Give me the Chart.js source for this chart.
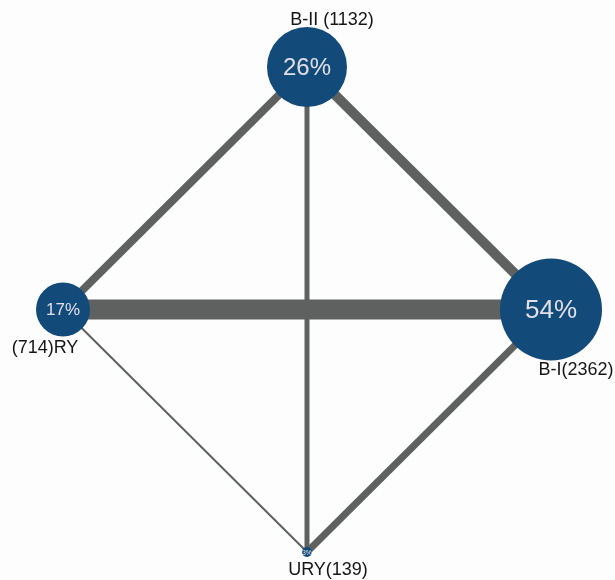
<!DOCTYPE html>
<html>
<head>
<meta charset="utf-8">
<script src="https://cdn.jsdelivr.net/npm/chart.js@4.4.3/dist/chart.umd.min.js"></script>
<style>
  html, body { margin: 0; padding: 0; background: #fdfdfe; }
  #wrap { width: 615px; height: 580px; position: relative; }
</style>
</head>
<body>
<div id="wrap"><canvas id="net"></canvas></div>
<script>
// network data
const nodeNames = ['RY', 'B-I', 'B-II', 'URY'];
const nodeCounts = [714, 2362, 1132, 139];
const nodePercents = [17, 54, 26, 3];
const nodeX = [-1, 1, 0, 0];
const nodeY = [0, 0, 1, -1];
const edgeFrom = [0, 2, 0, 2, 1, 0];
const edgeTo = [1, 1, 2, 3, 3, 3];
const edgeWeights = [10, 5, 4, 2.5, 3.5, 1];

// styling
const nodeRadius = [27, 51, 40, 5];
const nodeColor = '#124b79';
const edgeColor = '#5f6161';
const labelFont = '"Liberation Sans", Arial, sans-serif';

const edgeSets = edgeFrom.map((f, i) => ({
    type: 'scatter',
    showLine: true,
    data: [{ x: nodeX[f], y: nodeY[f] }, { x: nodeX[edgeTo[i]], y: nodeY[edgeTo[i]] }],
    borderColor: edgeColor,
    borderWidth: edgeWeights[i] * 2,
    pointRadius: 0,
    order: 2
}));

const nodeSet = {
    type: 'bubble',
    data: nodeNames.map((n, i) => ({ x: nodeX[i], y: nodeY[i], r: nodeRadius[i] })),
    backgroundColor: nodeColor,
    borderColor: nodeColor,
    borderWidth: 0,
    order: 1
};

// text placement per node
const labelPlace = [
    { dx: -18, dy: 39, text: i => '(' + nodeCounts[i] + ')' + nodeNames[i] },
    { dx: 25, dy: 61, text: i => nodeNames[i] + '(' + nodeCounts[i] + ')' },
    { dx: 25, dy: -47, text: i => nodeNames[i] + ' (' + nodeCounts[i] + ')' },
    { dx: 21, dy: 18, text: i => nodeNames[i] + '(' + nodeCounts[i] + ')' }
];
const pctSize = [17, 26, 24, 7];

const nodeText = {
    id: 'nodeText',
    afterDatasetsDraw(chart) {
        const ctx = chart.ctx;
        const xs = chart.scales.x, ys = chart.scales.y;
        ctx.save();
        nodeNames.forEach((n, i) => {
            const px = xs.getPixelForValue(nodeX[i]);
            const py = ys.getPixelForValue(nodeY[i]);
            ctx.textBaseline = 'middle';
            ctx.textAlign = 'center';
            ctx.fillStyle = '#e2dfe8';
            ctx.font = pctSize[i] + 'px ' + labelFont;
            ctx.fillText(nodePercents[i] + '%', px, py + 1);
            const lp = labelPlace[i];
            ctx.fillStyle = '#151515';
            ctx.font = '18px ' + labelFont;
            ctx.fillText(lp.text(i), px + lp.dx, py + lp.dy);
        });
        ctx.restore();
    }
};

new Chart(document.getElementById('net'), {
    data: { datasets: [nodeSet, ...edgeSets] },
    options: {
        responsive: true,
        maintainAspectRatio: false,
        animation: false,
        layout: { padding: 0, autoPadding: false },
        plugins: { legend: { display: false }, tooltip: { enabled: false } },
        scales: {
            x: { type: 'linear', min: -1.2582, max: 1.2623, display: false },
            y: { type: 'linear', min: -1.1155, max: 1.2763, display: false }
        }
    },
    plugins: [nodeText]
});
</script>
</body>
</html>
